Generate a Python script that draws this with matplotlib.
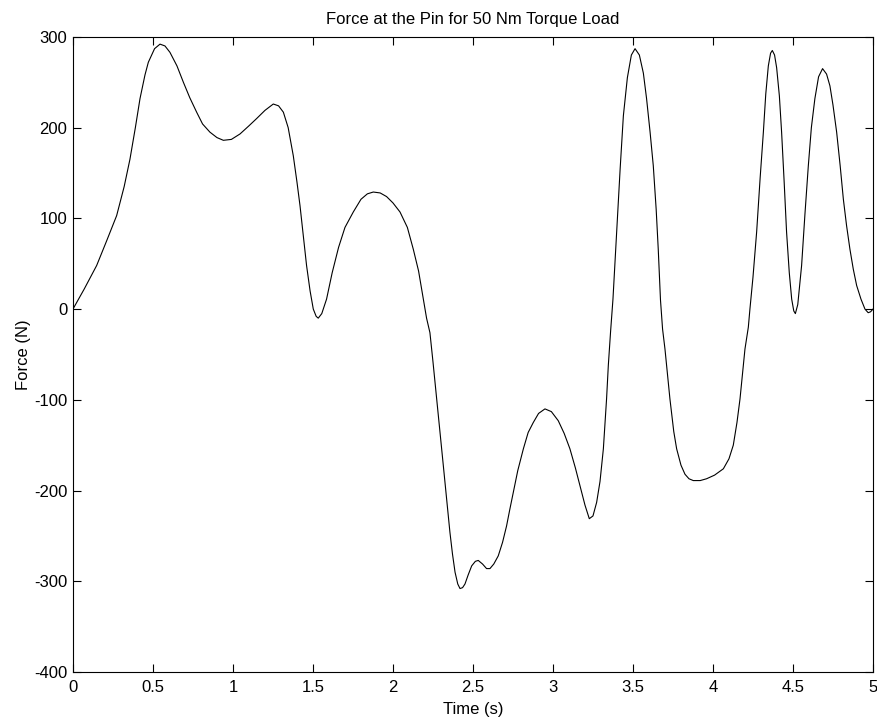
import numpy as np
from matplotlib import pyplot as plt

plt.rcParams['font.family'] = ['Liberation Sans', 'DejaVu Sans']
plt.rcParams['axes.unicode_minus'] = False

# values
time_s = [
    0.0, 0.07, 0.148, 0.21, 0.273, 0.32, 0.356, 0.39, 0.419, 0.45, 0.471, 0.51,
    0.544, 0.575, 0.606, 0.65, 0.69, 0.73, 0.773, 0.81, 0.856, 0.9, 0.94, 0.99,
    1.044, 1.1, 1.148, 1.2, 1.252, 1.285, 1.315, 1.345, 1.377, 1.40, 1.419, 1.44,
    1.46, 1.482, 1.502, 1.52, 1.533, 1.555, 1.585, 1.62, 1.66, 1.70, 1.752, 1.80,
    1.84, 1.877, 1.92, 1.96, 2.0, 2.044, 2.09, 2.127, 2.16, 2.19, 2.21, 2.231,
    2.25, 2.273, 2.295, 2.315, 2.336, 2.356, 2.372, 2.388, 2.405, 2.419, 2.435,
    2.45, 2.47, 2.492, 2.515, 2.533, 2.56, 2.585, 2.606, 2.63, 2.658, 2.685,
    2.71, 2.73, 2.752, 2.78, 2.815, 2.845, 2.877, 2.91, 2.95, 2.99, 3.033, 3.07,
    3.106, 3.14, 3.169, 3.2, 3.227, 3.25, 3.273, 3.294, 3.315, 3.335, 3.346,
    3.36, 3.375, 3.398, 3.42, 3.44, 3.465, 3.49, 3.513, 3.54, 3.565, 3.585,
    3.607, 3.627, 3.645, 3.658, 3.672, 3.685, 3.7, 3.731, 3.755, 3.773, 3.8,
    3.825, 3.85, 3.877, 3.92, 3.96, 4.01, 4.065, 4.1, 4.127, 4.15, 4.169, 4.2,
    4.221, 4.231, 4.25, 4.273, 4.295, 4.315, 4.33, 4.346, 4.36, 4.371, 4.385,
    4.398, 4.415, 4.429, 4.445, 4.46, 4.477, 4.492, 4.505, 4.515, 4.53, 4.554,
    4.575, 4.596, 4.615, 4.637, 4.66, 4.685, 4.71, 4.731, 4.75, 4.773, 4.795,
    4.815, 4.835, 4.856, 4.877, 4.898, 4.925, 4.95, 4.97, 4.985, 5.0,
]
force_n = [
    0, 22, 48, 75, 103, 135, 165, 200, 232, 258, 272, 287,
    292, 290, 283, 268, 250, 233, 217, 204, 195, 189, 186, 187,
    193, 202, 210, 219, 226, 224, 217, 200, 169, 140, 114, 80,
    48, 20, 0, -8, -10, -5, 11, 40, 68, 90, 107, 121,
    127, 129, 128, 124, 117, 107, 90, 66, 42, 11, -10, -26,
    -58, -99, -137, -173, -210, -246, -270, -290, -303, -308, -307,
    -303, -293, -283, -278, -277, -281, -286, -286, -281, -272, -257,
    -239, -221, -202, -178, -154, -136, -125, -115, -110, -113, -123, -137,
    -154, -175, -195, -216, -231, -228, -213, -190, -154, -99, -62,
    -25, 11, 85, 155, 213, 255, 280, 287, 280, 260, 232,
    195, 158, 110, 66, 10, -22, -44, -99, -135, -154, -172,
    -182, -187, -189, -189, -187, -183, -176, -165, -150, -125, -99, -44,
    -20, 0, 35, 85, 145, 195, 237, 268, 282, 285, 280,
    266, 235, 195, 140, 85, 40, 11, -2, -5, 5, 48,
    105, 158, 200, 232, 256, 265, 259, 246, 225, 195, 158,
    121, 92, 66, 44, 26, 11, 0, -4, -3, 0,
]

x_ticks = [0, 0.5, 1, 1.5, 2, 2.5, 3, 3.5, 4, 4.5, 5]
y_ticks = [-400, -300, -200, -100, 0, 100, 200, 300]

fig = plt.figure(figsize=(8.77, 7.23), dpi=100)
ax = fig.add_axes([0.0832, 0.0705, 0.9122, 0.8785])

ax.plot(time_s, force_n, color='black', linewidth=0.8)

ax.set_xlim(0, 5)
ax.set_ylim(-400, 300)
ax.set_xticks(x_ticks)
ax.set_xticklabels([f'{t:g}' for t in x_ticks])
ax.set_yticks(y_ticks)

ax.tick_params(direction='in', top=True, right=True, length=6, width=0.8,
               labelsize=12)
ax.tick_params(axis='x', pad=6)
ax.tick_params(axis='y', pad=4)
for side in ax.spines.values():
    side.set_linewidth(0.8)

ax.set_title('Force at the Pin for 50 Nm Torque Load', fontsize=12, pad=9)
ax.set_xlabel('Time (s)', fontsize=12, labelpad=5)
ax.set_ylabel('Force (N)', fontsize=12, labelpad=2)

plt.savefig('out.png', dpi=100)
